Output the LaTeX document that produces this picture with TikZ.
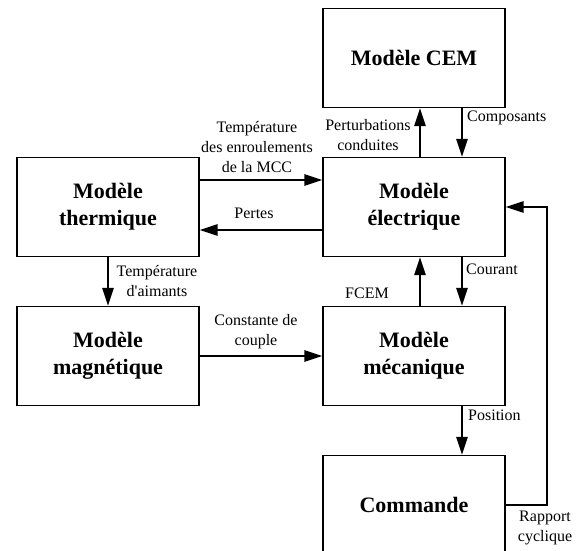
\documentclass[tikz,border=0pt]{standalone}
\usepackage{fontspec}
\setmainfont{Liberation Serif}
\usetikzlibrary{arrows.meta}

\tikzset{
  bloc/.style={draw, line width=1.2pt, minimum width=182pt, minimum height=99pt,
    align=center, font=\fontsize{22}{27}\selectfont\bfseries},
  etiq/.style={inner sep=0pt, align=center, font=\fontsize{16}{20}\selectfont},
  fleche/.style={line width=2.5pt, -{Triangle[length=18pt,width=11pt]}},
}

\begin{document}
\begin{tikzpicture}[x=1pt,y=-1pt]
		%%%%% START %%%%%
		\useasboundingbox (0,0) rectangle (587,551);

		\node[bloc] (cem) at (414,58) {Modèle CEM};
		\node[bloc] (elec) at (414,207) {Modèle\\électrique};
		\node[bloc] (therm) at (108,207) {Modèle\\thermique};
		\node[bloc] (mag) at (108,356) {Modèle\\magnétique};
		\node[bloc] (meca) at (414,356) {Modèle\\mécanique};
		\node[bloc] (cmd) at (414,505) {Commande};

		\draw[fleche] ([xshift=6pt]elec.north) -- ([xshift=6pt]cem.south);
		\draw[fleche] ([xshift=48pt]cem.south) -- ([xshift=48pt]elec.north);
		\node[etiq] (pert) at (368,135) {Perturbations\\conduites};
		\node[etiq, anchor=west] (comp) at (467,118) {Composants};

		\draw[fleche] ([yshift=27pt]therm.east) -- ([yshift=27pt]elec.west);
		\draw[fleche] ([yshift=-23pt]elec.west) -- ([yshift=-23pt]therm.east);
		\node[etiq] (tenr) at (257,147) {Température\\des enroulements\\de la MCC};
		\node[etiq] (pertes) at (254,213) {Pertes};

		\draw[fleche] (therm.south) -- (mag.north);
		\node[etiq] (taim) at (157,281) {Température\\d\textquotesingle aimants};

		\draw[fleche] (mag.east) -- (meca.west);
		\node[etiq] (cste) at (256,332) {Constante de\\couple};

		\draw[fleche] ([xshift=6pt]meca.north) -- ([xshift=6pt]elec.south);
		\draw[fleche] ([xshift=48pt]elec.south) -- ([xshift=48pt]meca.north);
		\node[etiq] (fcem) at (367,293) {FCEM};
		\node[etiq, anchor=west] (cour) at (466,269) {Courant};

		\draw[fleche] ([xshift=48pt]meca.south) -- ([xshift=48pt]cmd.north);
		\node[etiq, anchor=west] (pos) at (468,415) {Position};

		\coordinate (retour) at (547,300);
		\draw[fleche] (cmd.east) -| (retour) |- (elec.east);
		\node[etiq] (rapp) at (545,528) {Rapport\\cyclique};

		%%%%% END %%%%%
\end{tikzpicture}
\end{document}
